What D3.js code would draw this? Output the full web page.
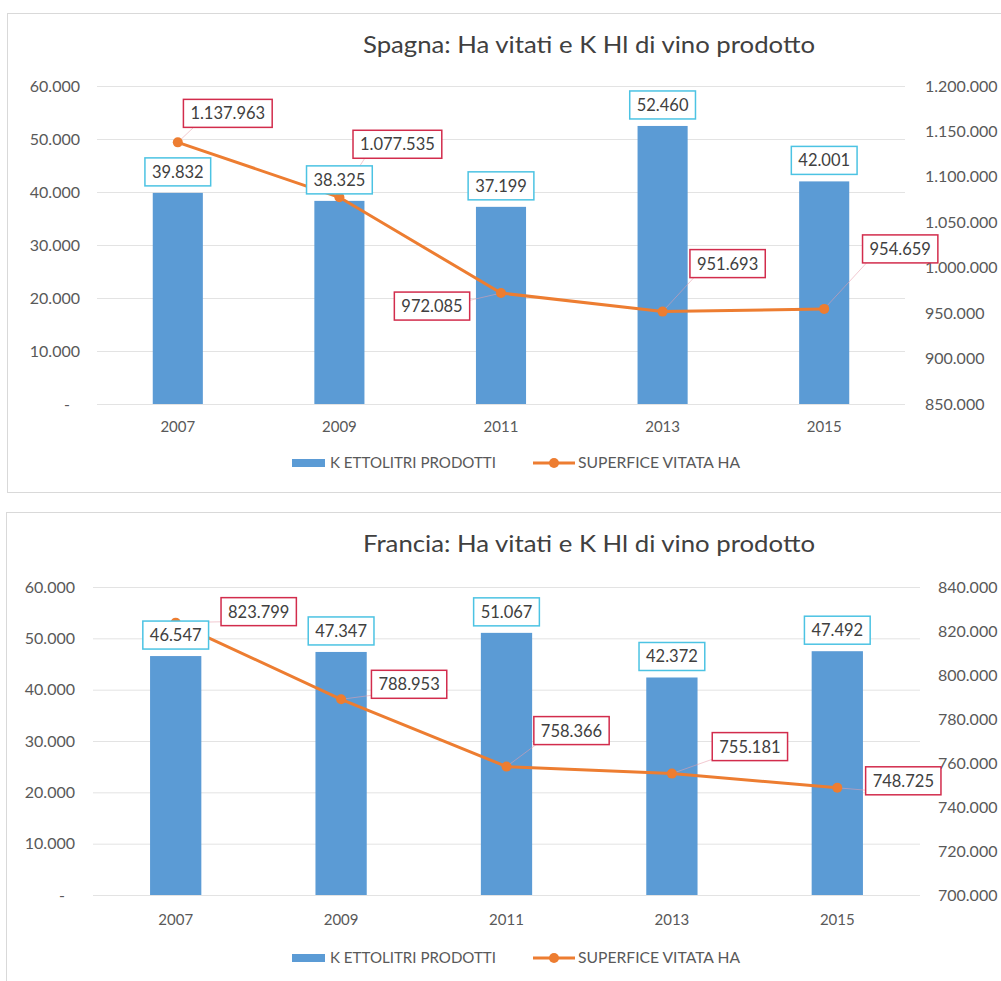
<!DOCTYPE html>
<html>
<head>
<meta charset="utf-8">
<script src="https://cdn.jsdelivr.net/npm/d3@7"></script>
<style>
  body { margin: 0; background: #fff; }
  svg { display: block; }
  text { font-family: Lato, "Open Sans", sans-serif; }
</style>
</head>
<body>
<svg id="chart" width="1001" height="981"></svg>
<script>
// ---- data ----
var years = ["2007", "2009", "2011", "2013", "2015"];
var leftTicks = [0, 10000, 20000, 30000, 40000, 50000, 60000];

var spagnaProd = [39832, 38325, 37199, 52460, 42001];       // K ettolitri prodotti
var spagnaHa   = [1137963, 1077535, 972085, 951693, 954659]; // superficie vitata ha
var spagnaRightTicks = [850000, 900000, 950000, 1000000, 1050000, 1100000, 1150000, 1200000];

var franciaProd = [46547, 47347, 51067, 42372, 47492];
var franciaHa   = [823799, 788953, 758366, 755181, 748725];
var franciaRightTicks = [700000, 720000, 740000, 760000, 780000, 800000, 820000, 840000];

var legendLabels = ["K ETTOLITRI PRODOTTI", "SUPERFICE VITATA HA"];

var blue = "#5b9bd5", orange = "#ed7d31";

var it = d3.formatLocale({decimal: ",", thousands: ".", grouping: [3], currency: ["€", ""]});
var fmt = it.format(",d");

var svg = d3.select("#chart");

function draw_chart(o){
  var g = svg.append("g");

  // frame
  g.append("rect")
    .attr("x", o.frame[0]).attr("y", o.frame[1])
    .attr("width", o.frame[2]).attr("height", o.frame[3])
    .attr("fill", "#fff").attr("stroke", "#d9d9d9");

  var x = d3.scaleBand().domain(years).range([o.left, o.right]);
  var y = d3.scaleLinear().domain([0, 60000]).range([o.bottom, o.top]);
  var y2 = d3.scaleLinear()
      .domain([o.rightTicks[0], o.rightTicks[o.rightTicks.length - 1]])
      .range([o.bottom, o.top]);

  // title
  g.append("text")
    .attr("x", o.titleX).attr("y", o.titleY)
    .attr("text-anchor", "middle")
    .attr("font-size", "24px")
    .attr("textLength", 452)
    .attr("lengthAdjust", "spacingAndGlyphs")
    .attr("fill", "#404040")
    .text(o.title);

  // gridlines
  g.append("g").selectAll("line")
    .data(leftTicks)
    .enter().append("line")
    .attr("x1", o.left).attr("x2", o.right)
    .attr("y1", function(d){ return y(d) + 0.5; })
    .attr("y2", function(d){ return y(d) + 0.5; })
    .attr("stroke", "#e3e3e3");

  // left axis
  var ay = g.append("g")
    .attr("transform", "translate(" + o.left + ",0)")
    .call(d3.axisLeft(y).tickValues(leftTicks).tickSize(0).tickPadding(o.leftPad)
      .tickFormat(function(d){ return d === 0 ? "-" : fmt(d); }));
  ay.select(".domain").remove();
  ay.selectAll("text").attr("font-size", "16px").attr("fill", "#595959").style("font-family", "Lato")
    .attr("dx", function(d){ return d === 0 ? -10 : 0; });

  // right axis
  var ay2 = g.append("g")
    .attr("transform", "translate(" + o.right + ",0)")
    .call(d3.axisRight(y2).tickValues(o.rightTicks).tickSize(0).tickPadding(o.rightPad).tickFormat(fmt));
  ay2.select(".domain").remove();
  ay2.selectAll("text").attr("font-size", "16px").attr("fill", "#595959").style("font-family", "Lato");

  // x axis
  var ax = g.append("g")
    .attr("transform", "translate(0," + o.bottom + ")")
    .call(d3.axisBottom(x).tickSize(0).tickPadding(o.xPad));
  ax.select(".domain").remove();
  ax.selectAll("text").attr("font-size", "15px").attr("fill", "#595959").style("font-family", "Lato");

  // bars
  var bw = x.bandwidth() * 0.31;
  g.append("g").selectAll("rect")
    .data(o.prod)
    .enter().append("rect")
    .attr("x", function(d, i){ return x(years[i]) + (x.bandwidth() - bw) / 2; })
    .attr("y", function(d){ return y(d); })
    .attr("width", bw)
    .attr("height", function(d){ return y(0) - y(d); })
    .attr("fill", blue);

  var cx = function(i){ return x(years[i]) + x.bandwidth() / 2; };

  // line
  var line = d3.line()
    .x(function(d, i){ return cx(i); })
    .y(function(d){ return y2(d); });

  // leader lines for moved labels
  g.append("g").selectAll("line")
    .data(o.ha)
    .enter().append("line")
    .attr("x1", function(d, i){ return cx(i); })
    .attr("y1", function(d){ return y2(d); })
    .attr("x2", function(d, i){ return cx(i) + o.labelOff[i][0] - 30; })
    .attr("y2", function(d, i){ return y2(d) + o.labelOff[i][1] + 10; })
    .attr("stroke", "#e8a0ad").attr("stroke-width", 0.8).attr("opacity", 0.7);

  g.append("path")
    .datum(o.ha)
    .attr("d", line)
    .attr("fill", "none")
    .attr("stroke", orange)
    .attr("stroke-width", 3);

  g.append("g").selectAll("circle")
    .data(o.ha)
    .enter().append("circle")
    .attr("cx", function(d, i){ return cx(i); })
    .attr("cy", function(d){ return y2(d); })
    .attr("r", 5)
    .attr("fill", orange);

  // bar value labels
  var bl = g.append("g").selectAll("g")
    .data(o.prod)
    .enter().append("g")
    .attr("transform", function(d, i){ return "translate(" + cx(i) + "," + (y(d) - 21) + ")"; });
  label_box(bl, "#4cc3e3");

  // line value labels
  var ll = g.append("g").selectAll("g")
    .data(o.ha)
    .enter().append("g")
    .attr("transform", function(d, i){
      return "translate(" + (cx(i) + o.labelOff[i][0]) + "," + (y2(d) + o.labelOff[i][1]) + ")";
    });
  label_box(ll, "#d22c4c");

  // legend
  var lg = g.append("g").attr("transform", "translate(0," + o.legendY + ")");
  lg.append("rect").attr("x", 292).attr("y", -4).attr("width", 33).attr("height", 8).attr("fill", blue);
  lg.append("text").attr("x", 330).attr("y", 5).attr("font-size", "15px").attr("fill", "#595959")
    .attr("textLength", 166).attr("lengthAdjust", "spacingAndGlyphs")
    .text(legendLabels[0]);
  lg.append("line").attr("x1", 533).attr("x2", 575).attr("y1", 0).attr("y2", 0)
    .attr("stroke", orange).attr("stroke-width", 3);
  lg.append("circle").attr("cx", 554).attr("cy", 0).attr("r", 5).attr("fill", orange);
  lg.append("text").attr("x", 578).attr("y", 5).attr("font-size", "15px").attr("fill", "#595959")
    .attr("textLength", 162).attr("lengthAdjust", "spacingAndGlyphs")
    .text(legendLabels[1]);
}

function label_box(sel, stroke){
  sel.append("rect").attr("class", "box");
  sel.append("text")
    .attr("text-anchor", "middle")
    .attr("y", 6)
    .attr("font-size", "16.5px")
    .attr("fill", "#404040")
    .text(function(d){ return fmt(d); });
  sel.each(function(){
    var t = d3.select(this).select("text").node().getComputedTextLength();
    d3.select(this).select("rect")
      .attr("x", -t / 2 - 7).attr("y", -14)
      .attr("width", t + 14).attr("height", 28)
      .attr("fill", "#fff").attr("stroke", stroke).attr("stroke-width", 1.5);
  });
}

draw_chart({
  title: "Spagna: Ha vitati e K Hl di vino prodotto",
  frame: [7.5, 13.5, 1010, 479],
  left: 97, right: 905, top: 86, bottom: 404,
  titleX: 589, titleY: 53,
  leftPad: 17, rightPad: 20, xPad: 17,
  legendY: 463,
  prod: spagnaProd, ha: spagnaHa, rightTicks: spagnaRightTicks,
  labelOff: [[50, -29], [58, -53], [-69, 13], [65, -48], [76, -60]]
});

draw_chart({
  title: "Francia: Ha vitati e K Hl di vino prodotto",
  frame: [6.5, 512.5, 1010, 480],
  left: 93, right: 920, top: 587, bottom: 895,
  titleX: 589, titleY: 552,
  leftPad: 18, rightPad: 18, xPad: 19,
  legendY: 958,
  prod: franciaProd, ha: franciaHa, rightTicks: franciaRightTicks,
  labelOff: [[83, -11], [68, -15], [65, -36], [78, -27], [66, -7]]
});
</script>
</body>
</html>
